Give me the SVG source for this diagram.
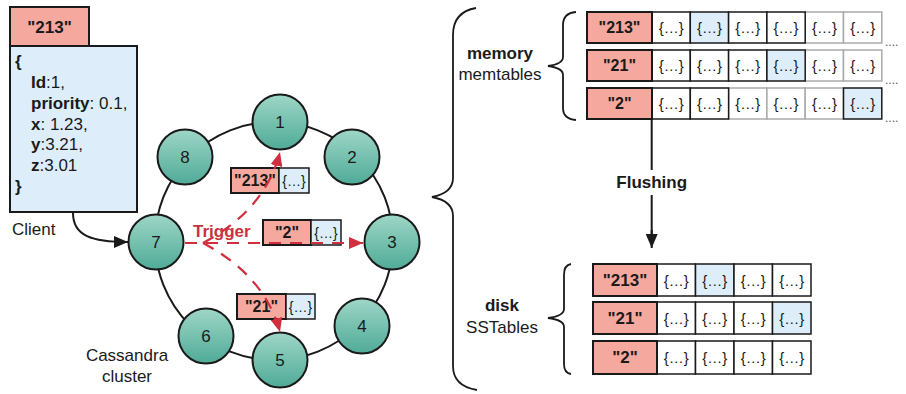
<svg xmlns="http://www.w3.org/2000/svg" width="906" height="394" viewBox="0 0 906 394">
<style>
text{font-family:"Liberation Sans",Arial,sans-serif;fill:#1a1a1a}
.key{fill:#f5a89e;stroke:#1a1a1a;stroke-width:2}
.val{fill:#fff;stroke:#1a1a1a;stroke-width:1.5}
.valg{fill:#fff;stroke:#aaa;stroke-width:1.5}
.blue{fill:#ddeefa;stroke:#1a1a1a;stroke-width:1.5}
.kt{font-weight:bold;font-size:16px;text-anchor:middle}
.kd{font-weight:bold;font-size:17px;text-anchor:middle}
.vt{font-size:15px;text-anchor:middle}
.vs{font-size:14px;text-anchor:middle}
.node circle{fill:url(#g);stroke:#1a1a1a;stroke-width:2}
.node text{font-size:17px;text-anchor:middle}
.lbl{font-size:17px;text-anchor:middle}
.b{font-weight:bold}
.jt{font-size:17px}
.dash{fill:none;stroke:#cf2f3f;stroke-width:2.2;stroke-dasharray:12 9}
.brace{fill:none;stroke:#1a1a1a;stroke-width:1.8}
</style>
<defs>
<linearGradient id="g" x1="0" y1="0" x2="0" y2="1">
<stop offset="0" stop-color="#9ed6c7"/>
<stop offset="1" stop-color="#4fab97"/>
</linearGradient>
<marker id="ra" markerWidth="14" markerHeight="12" refX="14" refY="6" orient="auto" markerUnits="userSpaceOnUse">
<path d="M0,0 L14,6 L0,12 Z" fill="#cf2f3f"/>
</marker>
<marker id="ba" markerWidth="14" markerHeight="12" refX="14" refY="6" orient="auto" markerUnits="userSpaceOnUse">
<path d="M0,0 L14,6 L0,12 Z" fill="#1a1a1a"/>
</marker>
</defs>
<rect width="906" height="394" fill="#fff"/>

<g id="client">
<rect x="10" y="7" width="79" height="39" class="key"/>
<text x="49.5" y="33" class="kd">"213"</text>
<rect x="10" y="46" width="127" height="166" fill="#ddeefa" stroke="#1a1a1a" stroke-width="2"/>
<text x="15" y="67" class="jt b">{</text>
<text x="31" y="88" class="jt"><tspan font-weight="bold">Id</tspan>:1,</text>
<text x="31" y="109" class="jt"><tspan font-weight="bold">priority</tspan>: 0.1,</text>
<text x="31" y="130" class="jt"><tspan font-weight="bold">x</tspan>: 1.23,</text>
<text x="31" y="150" class="jt"><tspan font-weight="bold">y</tspan>:3.21,</text>
<text x="31" y="171" class="jt"><tspan font-weight="bold">z</tspan>:3.01</text>
<text x="15" y="192" class="jt b">}</text>
<text x="12" y="235" class="jt">Client</text>
</g>

<g id="ring">
<circle cx="274" cy="241" r="119" fill="none" stroke="#1a1a1a" stroke-width="2"/>
<text x="127" y="361" class="lbl">Cassandra</text>
<text x="127" y="382" class="lbl">cluster</text>
</g>

<g id="n1" class="node"><circle cx="280" cy="122" r="27.5"/><text x="280" y="128">1</text></g>
<g id="n2" class="node"><circle cx="352" cy="157" r="27.5"/><text x="352" y="163">2</text></g>
<g id="n3" class="node"><circle cx="392" cy="242" r="27.5"/><text x="392" y="248">3</text></g>
<g id="n4" class="node"><circle cx="362" cy="326" r="27.5"/><text x="362" y="332">4</text></g>
<g id="n5" class="node"><circle cx="280" cy="360" r="27.5"/><text x="280" y="366">5</text></g>
<g id="n6" class="node"><circle cx="206" cy="336" r="27.5"/><text x="206" y="342">6</text></g>
<g id="n7" class="node"><circle cx="156" cy="242" r="27.5"/><text x="156" y="248">7</text></g>
<g id="n8" class="node"><circle cx="185" cy="157" r="27.5"/><text x="185" y="163">8</text></g>

<g id="trigger">
<text x="193" y="237" font-size="17px" font-weight="bold" style="fill:#c8323e">Trigger</text>
</g>

<g id="msg213">
<rect x="231" y="168" width="48" height="25" class="key"/>
<rect x="279" y="168" width="30" height="25" class="blue"/>
<text x="255" y="186" class="kt" font-size="15px">"213"</text>
<text x="294" y="185.5" class="vs">{…}</text>
</g>
<g id="msg2">
<rect x="263" y="220" width="48" height="25" class="key"/>
<rect x="311" y="220" width="30" height="25" class="blue"/>
<text x="287" y="238" class="kt" font-size="15px">"2"</text>
<text x="326" y="237.5" class="vs">{…}</text>
</g>
<g id="msg21">
<rect x="237" y="294" width="49" height="25" class="key"/>
<rect x="286" y="294" width="29" height="25" class="blue"/>
<text x="261.5" y="312" class="kt" font-size="15px">"21"</text>
<text x="300.5" y="311.5" class="vs">{…}</text>
</g>

<g id="connectors">
<path d="M73,213 C73,236 92,242 128,242" fill="none" stroke="#1a1a1a" stroke-width="2" marker-end="url(#ba)"/>
<path d="M185,243 L363,243" class="dash" marker-end="url(#ra)"/>
<path d="M203,243 Q265,210 280,152" class="dash" marker-end="url(#ra)"/>
<path d="M203,243 Q265,276 280,332" class="dash" marker-end="url(#ra)"/>
<path d="M651.7,119 L651.7,170 M651.7,195 L651.7,234" fill="none" stroke="#1a1a1a" stroke-width="2"/>
<path d="M651.7,230 L651.7,248" fill="none" stroke="#1a1a1a" stroke-width="2" marker-end="url(#ba)"/>
</g>

<g id="braces">
<path class="brace" d="M476,8 Q453,12 453,35 L453,178 Q453,193 432,197 Q453,201 453,216 L453,366 Q453,386 477,390"/>
<path class="brace" d="M576,12 Q563,13 563,25 L563,57 Q563,64 548,66 Q563,68 563,75 L563,108 Q563,119 576,120"/>
<path class="brace" d="M571,264 Q564,265 564,275 L564,309 Q564,316 548,318 Q564,320 564,327 L564,364 Q564,373 571,374"/>
<text x="500" y="59" class="lbl b" font-size="16px">memory</text>
<text x="500" y="80" class="lbl">memtables</text>
<text x="502" y="311" class="lbl b">disk</text>
<text x="502" y="333" class="lbl">SSTables</text>
<text x="651.7" y="188" class="lbl b">Flushing</text>
</g>

<g id="mem213">
<rect x="652" y="12" width="38.3" height="31" class="val"/>
<rect x="690.3" y="12" width="38.3" height="31" class="blue"/>
<rect x="728.6" y="12" width="38.3" height="31" class="val"/>
<rect x="805.2" y="12" width="38.3" height="31" class="valg"/>
<rect x="843.5" y="12" width="38.3" height="31" class="valg"/>
<rect x="766.9" y="12" width="38.3" height="31" class="val" stroke-width="2"/>
<rect x="587" y="12" width="65" height="31" class="key"/>
<text x="619.5" y="33" class="kt">"213"</text>
<text x="671.2" y="33" class="vt">{…}</text><text x="709.5" y="33" class="vt">{…}</text><text x="747.8" y="33" class="vt">{…}</text><text x="786.1" y="33" class="vt">{…}</text><text x="824.4" y="33" class="vt">{…}</text><text x="862.7" y="33" class="vt">{…}</text>
<text x="885" y="46" font-size="12px" style="fill:#555">....</text>
</g>
<g id="mem21">
<rect x="652" y="50" width="38.3" height="31" class="val"/>
<rect x="690.3" y="50" width="38.3" height="31" class="val"/>
<rect x="728.6" y="50" width="38.3" height="31" class="val"/>
<rect x="805.2" y="50" width="38.3" height="31" class="valg"/>
<rect x="843.5" y="50" width="38.3" height="31" class="valg"/>
<rect x="766.9" y="50" width="38.3" height="31" class="blue"/>
<rect x="587" y="50" width="65" height="31" class="key"/>
<text x="619.5" y="71" class="kt">"21"</text>
<text x="671.2" y="71" class="vt">{…}</text><text x="709.5" y="71" class="vt">{…}</text><text x="747.8" y="71" class="vt">{…}</text><text x="786.1" y="71" class="vt">{…}</text><text x="824.4" y="71" class="vt">{…}</text><text x="862.7" y="71" class="vt">{…}</text>
<text x="885" y="84" font-size="12px" style="fill:#555">....</text>
</g>
<g id="mem2">
<rect x="728.6" y="88" width="38.3" height="31" class="valg"/>
<rect x="766.9" y="88" width="38.3" height="31" class="valg"/>
<rect x="805.2" y="88" width="38.3" height="31" class="valg"/>
<rect x="652" y="88" width="38.3" height="31" class="val"/>
<rect x="690.3" y="88" width="38.3" height="31" class="val"/>
<rect x="843.5" y="88" width="38.3" height="31" class="blue" stroke-width="2"/>
<rect x="587" y="88" width="65" height="31" class="key"/>
<text x="619.5" y="109" class="kt">"2"</text>
<text x="671.2" y="109" class="vt">{…}</text><text x="709.5" y="109" class="vt">{…}</text><text x="747.8" y="109" class="vt">{…}</text><text x="786.1" y="109" class="vt">{…}</text><text x="824.4" y="109" class="vt">{…}</text><text x="862.7" y="109" class="vt">{…}</text>
<text x="885" y="122" font-size="12px" style="fill:#555">....</text>
</g>

<g id="ss213">
<rect x="657" y="264" width="38.5" height="32" class="val" stroke-width="2"/>
<rect x="695.5" y="264" width="38.5" height="32" class="blue" stroke-width="2"/>
<rect x="734" y="264" width="38.5" height="32" class="val" stroke-width="2"/>
<rect x="772.5" y="264" width="38.5" height="32" class="val" stroke-width="2"/>
<rect x="593" y="264" width="64" height="32" class="key"/>
<text x="625" y="286" class="kd">"213"</text>
<text x="676.2" y="285.5" class="vt">{…}</text><text x="714.7" y="285.5" class="vt">{…}</text><text x="753.2" y="285.5" class="vt">{…}</text><text x="791.7" y="285.5" class="vt">{…}</text>
</g>
<g id="ss21">
<rect x="657" y="302" width="38.5" height="32" class="val" stroke-width="2"/>
<rect x="695.5" y="302" width="38.5" height="32" class="val" stroke-width="2"/>
<rect x="734" y="302" width="38.5" height="32" class="val" stroke-width="2"/>
<rect x="772.5" y="302" width="38.5" height="32" class="blue" stroke-width="2"/>
<rect x="593" y="302" width="64" height="32" class="key"/>
<text x="625" y="324" class="kd">"21"</text>
<text x="676.2" y="323.5" class="vt">{…}</text><text x="714.7" y="323.5" class="vt">{…}</text><text x="753.2" y="323.5" class="vt">{…}</text><text x="791.7" y="323.5" class="vt">{…}</text>
</g>
<g id="ss2">
<rect x="657" y="341" width="38.5" height="33" class="val" stroke-width="2"/>
<rect x="695.5" y="341" width="38.5" height="33" class="val" stroke-width="2"/>
<rect x="734" y="341" width="38.5" height="33" class="val" stroke-width="2"/>
<rect x="772.5" y="341" width="38.5" height="33" class="val" stroke-width="2"/>
<rect x="593" y="341" width="64" height="33" class="key"/>
<text x="625" y="363" class="kd">"2"</text>
<text x="676.2" y="362.5" class="vt">{…}</text><text x="714.7" y="362.5" class="vt">{…}</text><text x="753.2" y="362.5" class="vt">{…}</text><text x="791.7" y="362.5" class="vt">{…}</text>
</g>
</svg>
